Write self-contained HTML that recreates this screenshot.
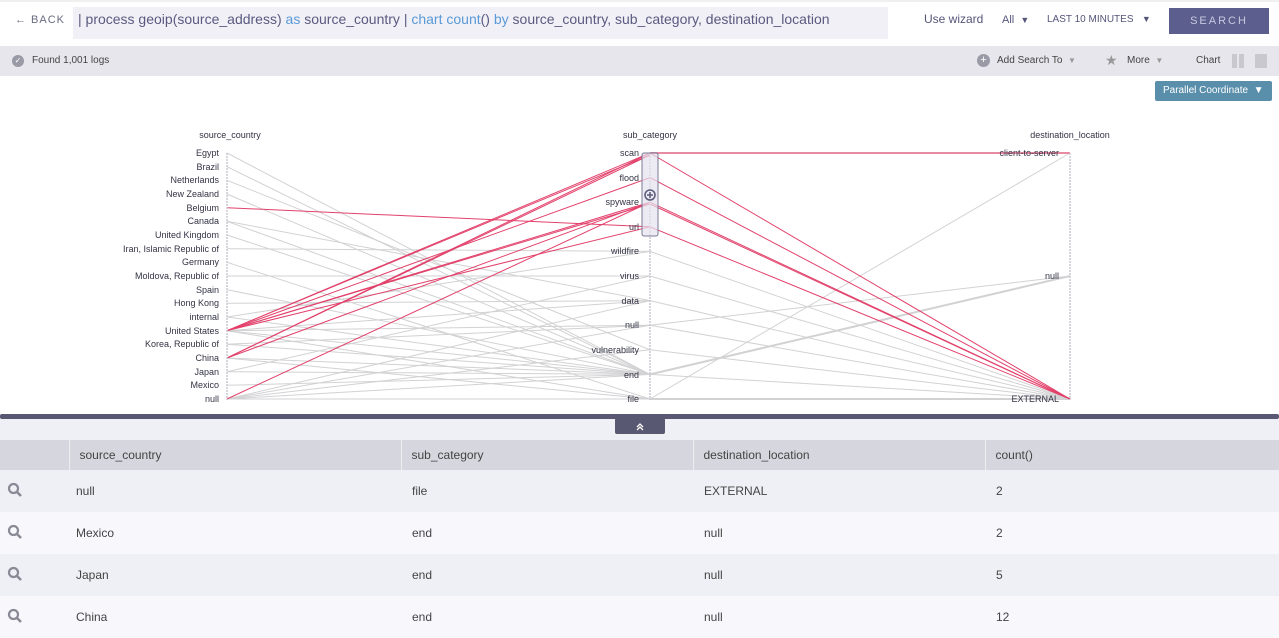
<!DOCTYPE html>
<html><head><meta charset="utf-8"><style>
*{margin:0;padding:0;box-sizing:border-box}
body{width:1279px;height:638px;overflow:hidden;background:#fff;font-family:"Liberation Sans",sans-serif;color:#454560;position:relative}
.a{position:absolute}
td{font-size:12px}
.m{padding-left:7px}
</style></head><body>
<div class="a" style="left:0;top:0;width:1279px;height:46px;background:#fff;border-top:2px solid #f0f0f0"></div>
<div class="a" style="left:15px;top:14px;font-size:11px;letter-spacing:1px;color:#6a6a80">&#8592; BACK</div>
<div class="a" style="left:73px;top:7px;width:815px;height:32px;background:#f1f0f6"></div>
<div class="a" style="left:78px;top:11px;font-size:14px;color:#5a5a80;white-space:nowrap">| process geoip(source_address) <span style="color:#5a9ad8">as</span> source_country | <span style="color:#5a9ad8">chart count</span>() <span style="color:#5a9ad8">by</span> source_country, sub_category, destination_location</div>
<div class="a" style="left:924px;top:12px;font-size:12px;color:#55557a">Use wizard</div>
<div class="a" style="left:1002px;top:14px;font-size:11px;color:#55557a">All &nbsp;<span style="font-size:9px">&#9660;</span></div>
<div class="a" style="left:1047px;top:14px;font-size:10px;color:#55557a">LAST 10 MINUTES &nbsp;&nbsp;<span style="font-size:9px">&#9660;</span></div>
<div class="a" style="left:1169px;top:8px;width:100px;height:26px;background:#5c5e8e;color:#c8c9e0;font-size:11px;letter-spacing:2px;text-align:center;line-height:26px">SEARCH</div>
<div class="a" style="left:0;top:46px;width:1279px;height:30px;background:#e6e6ec"></div>
<div class="a" style="left:12px;top:55px;width:12px;height:12px;border-radius:50%;background:#9a9aa6;color:#fff;font-size:8px;text-align:center;line-height:12px">&#10003;</div>
<div class="a" style="left:32px;top:55px;font-size:10px;color:#444">Found 1,001 logs</div>
<div class="a" style="left:977px;top:54px;width:13px;height:13px;border-radius:50%;background:#9a9aa6;color:#fff;font-size:11px;text-align:center;line-height:13px">+</div>
<div class="a" style="left:997px;top:55px;font-size:10px;color:#444">Add Search To &nbsp;<span style="color:#999;font-size:8px">&#9660;</span></div>
<div class="a" style="left:1105px;top:52px;font-size:14px;color:#999">&#9733;</div>
<div class="a" style="left:1127px;top:55px;font-size:10px;color:#444">More &nbsp;<span style="color:#999;font-size:8px">&#9660;</span></div>
<div class="a" style="left:1196px;top:55px;font-size:10px;color:#444">Chart</div>
<div class="a" style="left:1232px;top:54px;width:5px;height:14px;background:#c8c8ce"></div>
<div class="a" style="left:1239px;top:54px;width:5px;height:14px;background:#c8c8ce"></div>
<div class="a" style="left:1255px;top:54px;width:12px;height:14px;background:#c8c8ce"></div>
<div class="a" style="left:1155px;top:81px;width:117px;height:20px;background:#5a8fab;border-radius:2px;color:#fff;font-size:10px;line-height:20px;padding-left:8px">Parallel Coordinate &nbsp;&#9660;</div>
<div class="a" style="left:0;top:419px;width:1279px;height:21px;background:#eff0f6"></div>

<svg class="a" style="left:0;top:0" width="1279" height="440">
<g stroke="#d2d2d4" stroke-width="1" fill="none">
<line x1="227" y1="153" x2="650" y2="374.4"/><line x1="227" y1="166.7" x2="650" y2="374.4"/><line x1="227" y1="180.3" x2="650" y2="349.8"/><line x1="227" y1="194" x2="650" y2="374.4"/><line x1="227" y1="221.3" x2="650" y2="300.6"/><line x1="227" y1="221.3" x2="650" y2="374.4"/><line x1="227" y1="235" x2="650" y2="374.4"/><line x1="227" y1="248.7" x2="650" y2="251.4"/><line x1="227" y1="262.3" x2="650" y2="399"/><line x1="227" y1="276" x2="650" y2="276"/><line x1="227" y1="289.7" x2="650" y2="374.4"/><line x1="227" y1="303.3" x2="650" y2="300.6"/><line x1="227" y1="317" x2="650" y2="374.4"/><line x1="227" y1="317" x2="650" y2="251.4"/><line x1="227" y1="330.7" x2="650" y2="325.2"/><line x1="227" y1="330.7" x2="650" y2="374.4"/><line x1="227" y1="330.7" x2="650" y2="399"/><line x1="227" y1="330.7" x2="650" y2="300.6"/><line x1="227" y1="344.3" x2="650" y2="374.4"/><line x1="227" y1="344.3" x2="650" y2="325.2"/><line x1="227" y1="358" x2="650" y2="374.4"/><line x1="227" y1="358" x2="650" y2="399"/><line x1="227" y1="371.7" x2="650" y2="276"/><line x1="227" y1="371.7" x2="650" y2="374.4"/><line x1="227" y1="385.3" x2="650" y2="374.4"/><line x1="227" y1="399" x2="650" y2="300.6"/><line x1="227" y1="399" x2="650" y2="325.2"/><line x1="227" y1="399" x2="650" y2="374.4"/><line x1="227" y1="399" x2="650" y2="399"/><line x1="227" y1="399" x2="650" y2="349.8"/>
<line x1="650" y1="251.4" x2="1070" y2="399"/><line x1="650" y1="276" x2="1070" y2="399"/><line x1="650" y1="300.6" x2="1070" y2="399"/><line x1="650" y1="325.2" x2="1070" y2="276"/><line x1="650" y1="325.2" x2="1070" y2="399"/><line x1="650" y1="349.8" x2="1070" y2="399"/><line x1="650" y1="374.4" x2="1070" y2="276" stroke-width="2"/><line x1="650" y1="374.4" x2="1070" y2="399"/><line x1="650" y1="399" x2="1070" y2="153"/><line x1="650" y1="399" x2="1070" y2="399" stroke-width="2"/>
</g>
<g stroke="#e2416b" stroke-width="1" fill="none">
<line x1="227" y1="207.7" x2="650" y2="226.8"/><line x1="227" y1="330.7" x2="650" y2="153"/><line x1="227" y1="330.7" x2="650" y2="155"/><line x1="227" y1="330.7" x2="650" y2="177.6"/><line x1="227" y1="330.7" x2="650" y2="202.2"/><line x1="227" y1="330.7" x2="650" y2="204"/><line x1="227" y1="330.7" x2="650" y2="226.8"/><line x1="227" y1="358" x2="650" y2="153"/><line x1="227" y1="358" x2="650" y2="155"/><line x1="227" y1="358" x2="650" y2="202.2"/><line x1="227" y1="399" x2="650" y2="202.2"/>
<line x1="650" y1="153" x2="1070" y2="153" stroke-width="2" stroke="#e88aa2"/><line x1="650" y1="153" x2="1070" y2="399"/><line x1="650" y1="177.6" x2="1070" y2="399"/><line x1="650" y1="202.2" x2="1070" y2="399"/><line x1="650" y1="204" x2="1070" y2="399"/><line x1="650" y1="226.8" x2="1070" y2="399"/>
</g>
<g stroke="#c8c8d0" stroke-width="1.5" stroke-dasharray="2,1">
<line x1="227" y1="153" x2="227" y2="400"/><line x1="650" y1="153" x2="650" y2="400"/><line x1="1070" y1="153" x2="1070" y2="400"/></g>
<rect x="642" y="153" width="16" height="83" rx="2" fill="#e4e2ee" fill-opacity="0.7" stroke="#7a7a96" stroke-width="1"/>
<circle cx="650" cy="195" r="5" fill="none" stroke="#5a5a7a" stroke-width="1.5"/><path d="M647 195h6M650 192v6" stroke="#5a5a7a" stroke-width="1.5"/>
<g font-family="Liberation Sans" font-size="9" fill="#333344">
<text x="230" y="138" text-anchor="middle">source_country</text><text x="650" y="138" text-anchor="middle">sub_category</text><text x="1070" y="138" text-anchor="middle">destination_location</text>
<g text-anchor="end">
<text x="219" y="156">Egypt</text><text x="219" y="170">Brazil</text><text x="219" y="183">Netherlands</text><text x="219" y="197">New Zealand</text><text x="219" y="211">Belgium</text><text x="219" y="224">Canada</text><text x="219" y="238">United Kingdom</text><text x="219" y="252">Iran, Islamic Republic of</text><text x="219" y="265">Germany</text><text x="219" y="279">Moldova, Republic of</text><text x="219" y="293">Spain</text><text x="219" y="306">Hong Kong</text><text x="219" y="320">internal</text><text x="219" y="334">United States</text><text x="219" y="347">Korea, Republic of</text><text x="219" y="361">China</text><text x="219" y="375">Japan</text><text x="219" y="388">Mexico</text><text x="219" y="402">null</text>
<text x="639" y="156">scan</text><text x="639" y="181">flood</text><text x="639" y="205">spyware</text><text x="639" y="230">url</text><text x="639" y="254">wildfire</text><text x="639" y="279">virus</text><text x="639" y="304">data</text><text x="639" y="328">null</text><text x="639" y="353">vulnerability</text><text x="639" y="378">end</text><text x="639" y="402">file</text>
<text x="1059" y="156">client-to-server</text><text x="1059" y="279">null</text><text x="1059" y="402">EXTERNAL</text>
</g></g>
<rect x="0" y="414" width="1279" height="5" rx="2" fill="#585873"/>
<rect x="615" y="418" width="50" height="16" rx="2" fill="#585873"/>
<path d="M637 427l3-3 3 3M637 430l3-3 3 3" stroke="#fff" stroke-width="1.3" fill="none"/>
</svg>
<table class="a" style="left:0;top:440px;width:1279px;border-collapse:collapse;color:#444">
<tr style="height:30px;background:#d6d6de"><td style="width:69px"></td><td style="width:332px;padding-left:10px;border-left:1px solid #eee">source_country</td><td style="width:292px;padding-left:10px;border-left:1px solid #eee">sub_category</td><td style="width:292px;padding-left:10px;border-left:1px solid #eee">destination_location</td><td style="padding-left:10px;border-left:1px solid #eee">count()</td></tr>
<tr style="height:42px;background:#eff0f6"><td class="m"><svg width="16" height="16"><circle cx="6.5" cy="6.5" r="4.5" stroke="#8a8a96" stroke-width="2.2" fill="none"/><path d="M10 10l4 4" stroke="#8a8a96" stroke-width="2.6"/></svg></td><td style="padding-left:7px">null</td><td style="padding-left:11px">file</td><td style="padding-left:11px">EXTERNAL</td><td style="padding-left:11px">2</td></tr>
<tr style="height:42px;background:#f8f8fc"><td class="m"><svg width="16" height="16"><circle cx="6.5" cy="6.5" r="4.5" stroke="#8a8a96" stroke-width="2.2" fill="none"/><path d="M10 10l4 4" stroke="#8a8a96" stroke-width="2.6"/></svg></td><td style="padding-left:7px">Mexico</td><td style="padding-left:11px">end</td><td style="padding-left:11px">null</td><td style="padding-left:11px">2</td></tr>
<tr style="height:42px;background:#eff0f6"><td class="m"><svg width="16" height="16"><circle cx="6.5" cy="6.5" r="4.5" stroke="#8a8a96" stroke-width="2.2" fill="none"/><path d="M10 10l4 4" stroke="#8a8a96" stroke-width="2.6"/></svg></td><td style="padding-left:7px">Japan</td><td style="padding-left:11px">end</td><td style="padding-left:11px">null</td><td style="padding-left:11px">5</td></tr>
<tr style="height:42px;background:#f8f8fc"><td class="m"><svg width="16" height="16"><circle cx="6.5" cy="6.5" r="4.5" stroke="#8a8a96" stroke-width="2.2" fill="none"/><path d="M10 10l4 4" stroke="#8a8a96" stroke-width="2.6"/></svg></td><td style="padding-left:7px">China</td><td style="padding-left:11px">end</td><td style="padding-left:11px">null</td><td style="padding-left:11px">12</td></tr>
</table>
</body></html>
